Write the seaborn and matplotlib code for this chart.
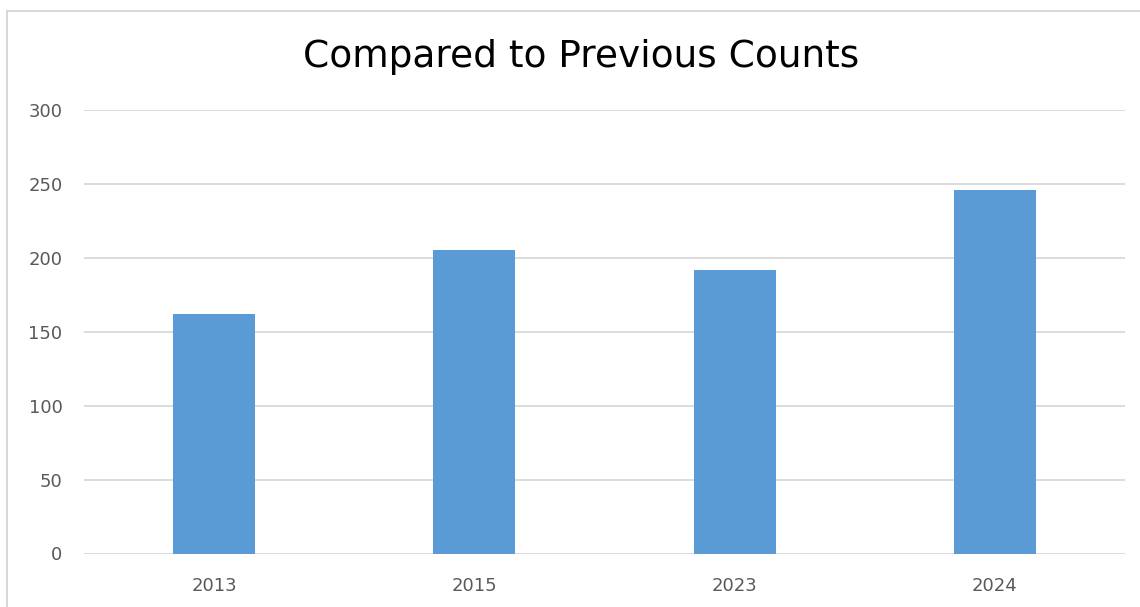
import matplotlib
matplotlib.use("Agg")
import matplotlib.pyplot as plt
import seaborn as sns
import pandas as pd
from matplotlib.patches import Rectangle

# data
years = ["2013", "2015", "2023", "2024"]
counts = [162, 205, 192, 246]
y_ticks = [0, 50, 100, 150, 200, 250, 300]

df = pd.DataFrame({"year": years, "count": counts})

sns.set_theme(style="white")
plt.rcParams['font.family'] = ['DejaVu Sans']

fig = plt.figure(figsize=(11.4, 6.07), dpi=100)
ax = fig.add_axes([84/1140, 1 - 553.5/607, (1125 - 84)/1140, (553.5 - 110)/607])

sns.barplot(data=df, x="year", y="count", color="#5B9BD5", saturation=1,
            width=0.315, linewidth=0, ax=ax, zorder=3)

ax.set_ylim(0, 300)
ax.set_yticks(y_ticks)
ax.grid(axis="y", color="#D9D9D9", linewidth=1.3, zorder=0)
ax.set_axisbelow(True)
for s in ax.spines.values():
    s.set_visible(False)
ax.set_xlabel("")
ax.set_ylabel("")
ax.tick_params(axis="both", length=0, labelsize=13, labelcolor="#595959")
ax.tick_params(axis="x", pad=17)
ax.tick_params(axis="y", pad=15.5)

fig.text(0.5095, 1 - 57/607, "Compared to Previous Counts", ha="center", va="center",
         fontsize=27, color="black")

# outer chart frame (extends past right and bottom edge)
fig.patches.append(Rectangle((7/1140, -0.1), 1.2, 1 - 11/607 + 0.1,
                             transform=fig.transFigure, fill=False,
                             edgecolor="#D9D9D9", linewidth=1.5))

fig.savefig("out.png", dpi=100)
